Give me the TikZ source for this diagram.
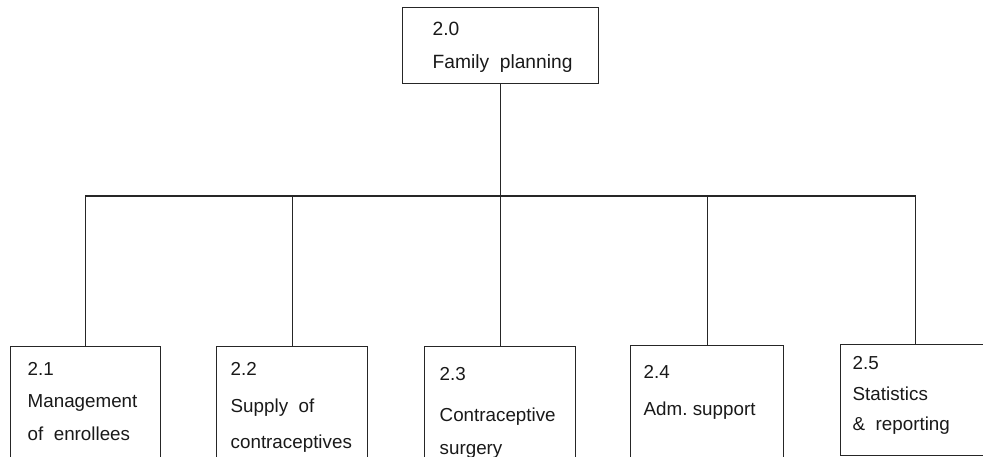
\documentclass[tikz,border=0pt]{standalone}
\usepackage{fontspec}
\setmainfont{Liberation Sans}
\begin{document}
\begin{tikzpicture}[x=1pt,y=-1pt,
  line width=1.4pt,
  box/.style={draw=black!85, rectangle, inner sep=0pt, anchor=north west},
  lbl/.style={anchor=base west, inner sep=0pt, text=black!90,
    font=\fontsize{18.8}{22}\selectfont},
  toplbl/.style={lbl, font=\fontsize{19.2}{23}\selectfont},
  wire/.style={draw=black!85}]
\useasboundingbox (0,0) rectangle (983,456);
\clip (0,0) rectangle (983,456);

% root box
\node[box, minimum width=196pt, minimum height=76pt] (top) at (402,7) {};
\node[toplbl] (t20a) at (432,35) {2.0};
\node[toplbl] (t20b) at (432,68) {Family\ \ planning};

% child boxes (running past the lower page edge)
\node[box, minimum width=150pt, minimum height=130pt] (b21) at (10,346) {};
\node[box, minimum width=151pt, minimum height=130pt] (b22) at (216,346) {};
\node[box, minimum width=151pt, minimum height=130pt] (b23) at (424,346) {};
\node[box, minimum width=153pt, minimum height=130pt] (b24) at (630,345) {};
\node[box, minimum width=150pt, minimum height=111pt] (b25) at (840,344) {};

% labels
\node[lbl] (t21a) at (27,375) {2.1};
\node[lbl] (t21b) at (27,407) {Management};
\node[lbl] (t21c) at (27,440) {of\ \ enrollees};

\node[lbl] (t22a) at (230,375) {2.2};
\node[lbl] (t22b) at (230,412) {Supply\ \ of};
\node[lbl] (t22c) at (230,448) {contraceptives};

\node[lbl] (t23a) at (439,380) {2.3};
\node[lbl] (t23b) at (439,421) {Contraceptive};
\node[lbl] (t23c) at (439,454) {surgery};

\node[lbl] (t24a) at (643,378) {2.4};
\node[lbl] (t24b) at (643,415) {Adm.\ support};

\node[lbl] (t25a) at (852,369) {2.5};
\node[lbl] (t25b) at (852,400) {Statistics};
\node[lbl] (t25c) at (852,430) {\&\ \ reporting};

% connectors
\coordinate (bus) at (500,196);
\draw[wire] (top.south) -- (top.south |- bus);
\draw[wire] (b21.north) -- (b21.north |- bus) -- (b25.north |- bus) -- (b25.north);
\draw[wire] (b22.north) -- (b22.north |- bus);
\draw[wire] (b23.north) -- (b23.north |- bus);
\draw[wire] (b24.north) -- (b24.north |- bus);
\end{tikzpicture}
\end{document}
